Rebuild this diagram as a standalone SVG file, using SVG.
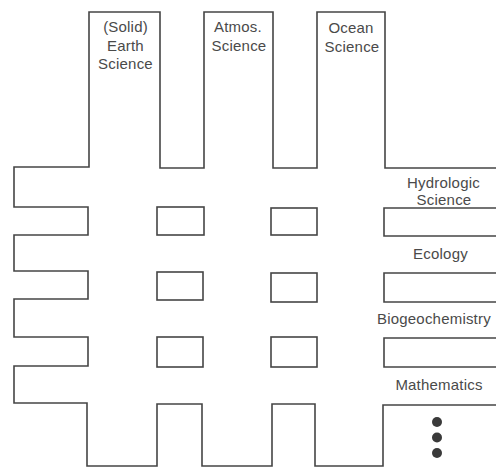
<svg xmlns="http://www.w3.org/2000/svg" width="496" height="468" viewBox="0 0 496 468">
<style>
.ln{fill:none;stroke:#454545;stroke-width:1.6;stroke-linejoin:miter}
.t{font-family:"Liberation Sans",Arial,sans-serif;font-size:15px;letter-spacing:0.2px;fill:#4a4a4a;text-anchor:middle}
.dot{fill:#3a3a3a}
</style>
<rect width="496" height="468" fill="#ffffff"/>
<g id="connectors">
<path class="ln" d="M496,168 H385 V12 H317 V168 H273 V12 H204 V168 H160 V12 H89 V167 H14 V207 H88 V235 H14 V271 H88 V299 H14 V337 H88 V366 H14 V403 H87 V466 H157 V404 H202 V466 H272 V404 H315 V466 H383 V405 H496"/>
<rect class="ln" x="157" y="207" width="47" height="28"/>
<rect class="ln" x="157" y="272" width="46" height="28"/>
<rect class="ln" x="157" y="337" width="46" height="30"/>
<rect class="ln" x="271" y="208" width="46" height="27"/>
<rect class="ln" x="271" y="273" width="46" height="29"/>
<rect class="ln" x="271" y="337" width="46" height="30"/>
<path class="ln" d="M497,208 H384 V236 H497"/>
<path class="ln" d="M497,273 H384 V302 H497"/>
<path class="ln" d="M497,338 H384 V367 H497"/>
</g>
<g id="earth">
<text class="t" x="125.5" y="32">(Solid)</text>
<text class="t" x="125.5" y="50.5">Earth</text>
<text class="t" x="125.5" y="69">Science</text>
</g>
<g id="atmos">
<text class="t" x="238" y="32">Atmos.</text>
<text class="t" x="239" y="51">Science</text>
</g>
<g id="ocean">
<text class="t" x="351" y="33">Ocean</text>
<text class="t" x="352" y="52">Science</text>
</g>
<g id="hydrologic">
<text class="t" x="443.5" y="187.5">Hydrologic</text>
<text class="t" x="444" y="205">Science</text>
</g>
<g id="ecology">
<text class="t" x="440.5" y="259">Ecology</text>
</g>
<g id="biogeochemistry">
<text class="t" x="377" y="323.5" style="text-anchor:start">Biogeochemistry</text>
</g>
<g id="mathematics">
<text class="t" x="439" y="390">Mathematics</text>
</g>
<g id="more">
<circle class="dot" cx="437" cy="422" r="5"/>
<circle class="dot" cx="437" cy="437.5" r="5"/>
<circle class="dot" cx="437" cy="453" r="5"/>
</g>
</svg>
